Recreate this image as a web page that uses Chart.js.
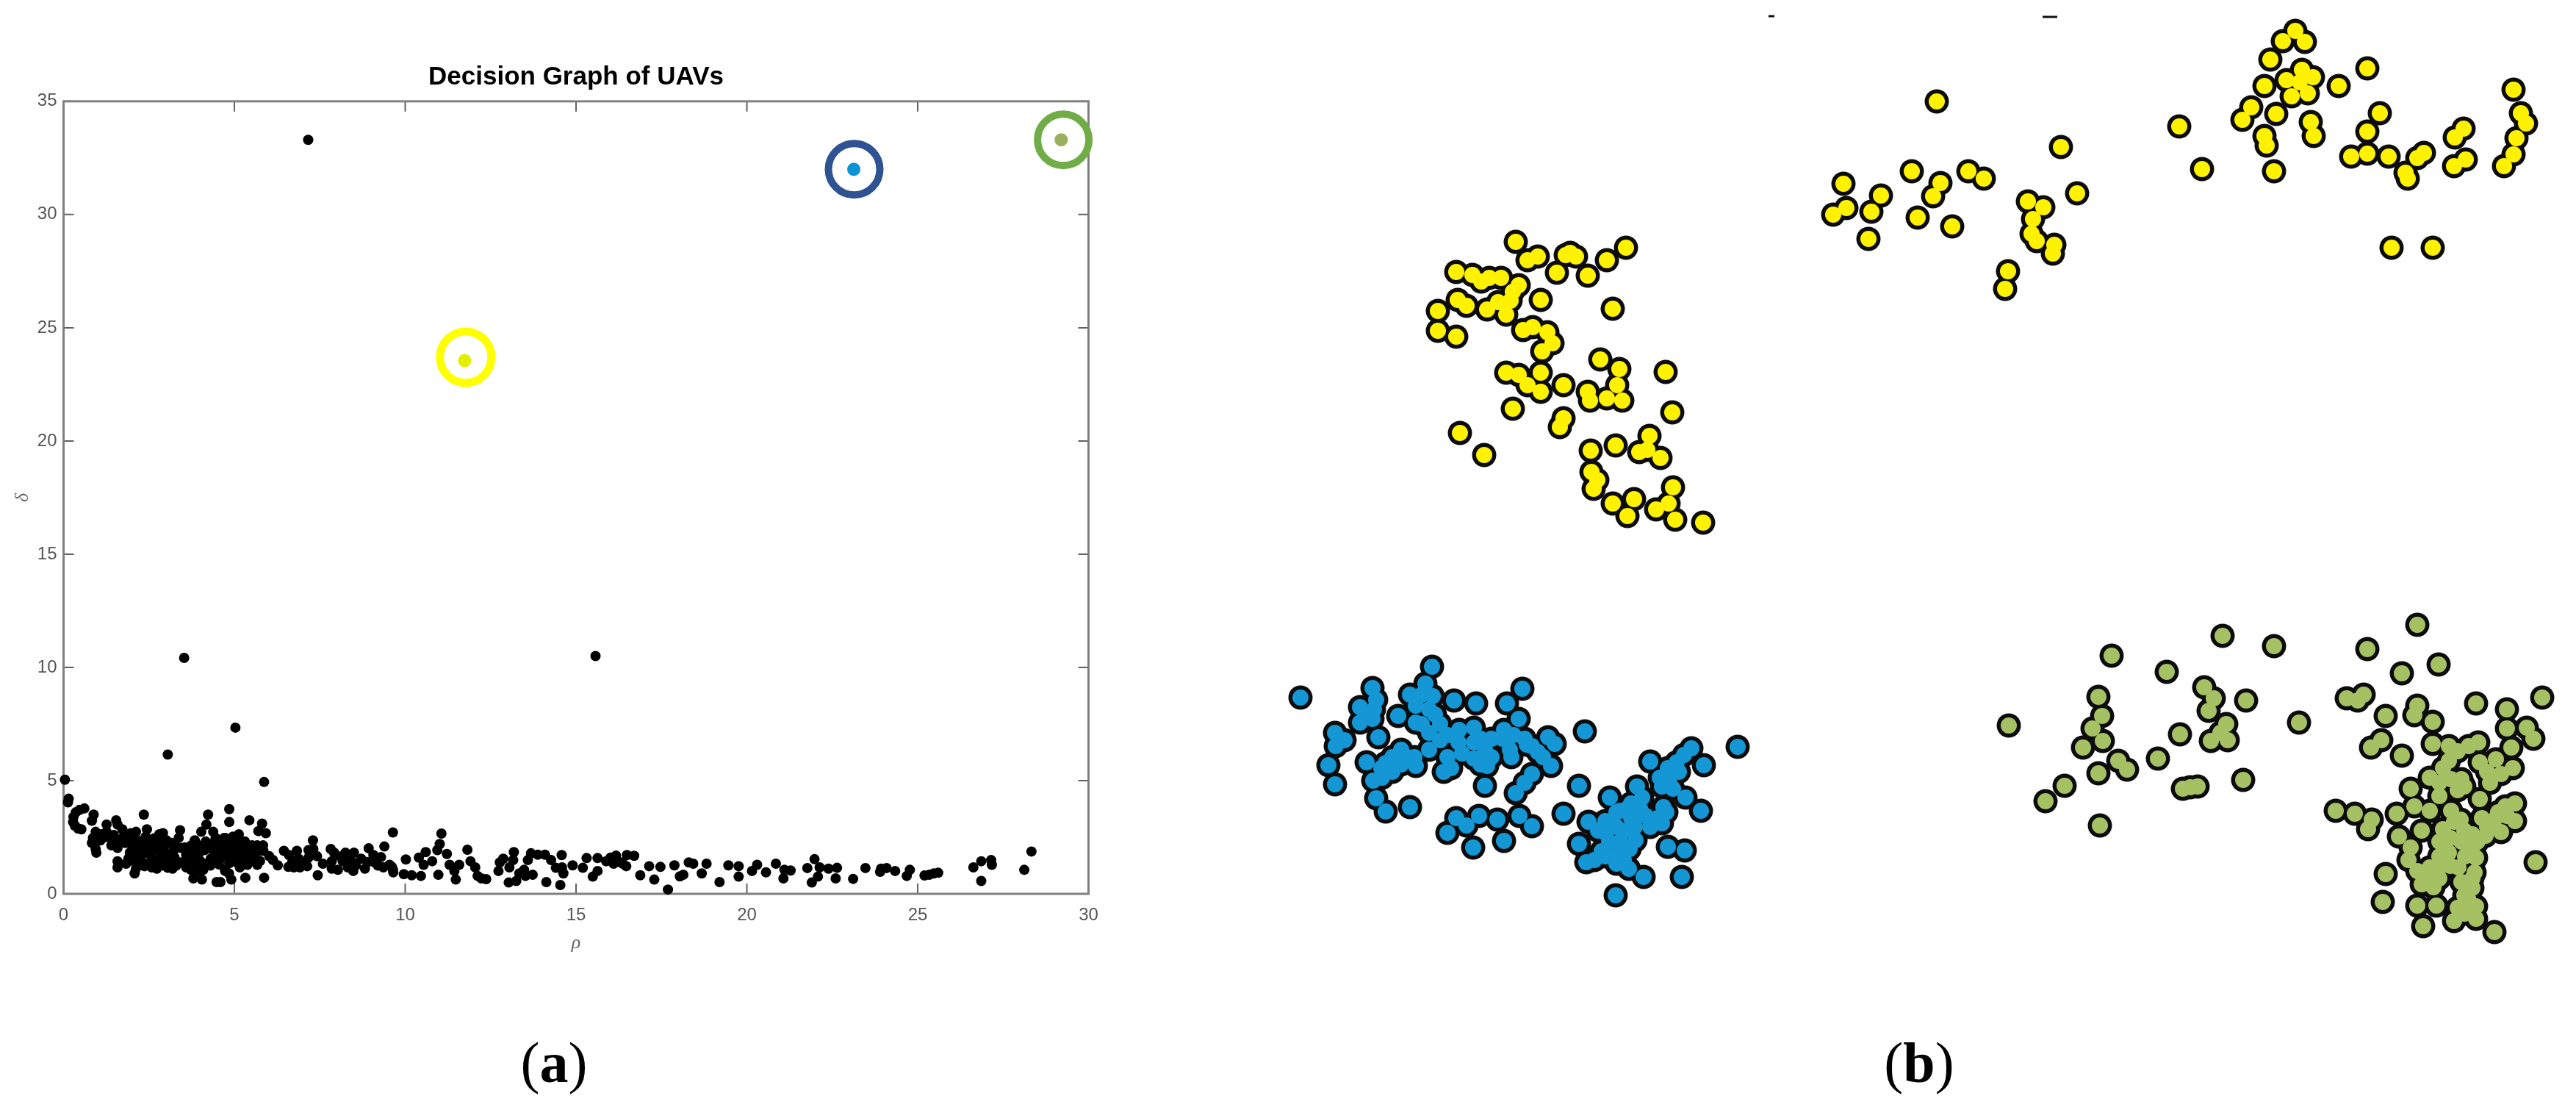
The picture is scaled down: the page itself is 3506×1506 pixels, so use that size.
<!DOCTYPE html>
<html>
<head>
<meta charset="UTF-8" />
<title>Decision Graph of UAVs</title>
<style type="text/css">
    html, body { margin: 0; padding: 0; background: #fff; }
    body { position: relative; width: 3506px; height: 1506px; overflow: hidden; }
    canvas { position: absolute; top: 0; }
    #graph { left: 0; }
    #clusters { left: 1700px; }
    .panel { position: absolute; top: 1396px; width: 200px; text-align: center;
             font: 78px "Liberation Serif", serif; color: #000; line-height: 100px; }
</style>
</head>
<body>
<canvas id="graph" width="1700" height="1506" aria-label="Decision Graph of UAVs" role="img"></canvas>
<canvas id="clusters" width="1806" height="1506" aria-label="UAV clusters" role="img"></canvas>
<div class="panel" style="left:654px">(<b>a</b>)</div>
<div class="panel" style="left:2512px">(<b>b</b>)</div>

<script src="https://cdn.jsdelivr.net/npm/chart.js"></script>
<script>
const titleText = 'Decision Graph of UAVs';
const rhoTicks = [0, 5, 10, 15, 20, 25, 30];
const deltaTicks = [0, 5, 10, 15, 20, 25, 30, 35];

// [rho, delta]
const decisionPoints = [
    [7.16,33.3],[3.53,10.42],[15.57,10.5],[5.03,7.34],[3.05,6.15],[5.87,4.94],[0.04,5.04],[0.15,4.2],[0.13,4.04],
    [0.61,3.77],[0.47,3.71],[0.36,3.6],[0.29,3.39],[0.28,3.17],[0.33,3.01],[0.43,2.88],[0.52,2.85],[0.88,3.5],[0.83,3.23],
    [1.26,3.06],[1.54,3.25],[1.58,3.06],[2.35,3.5],[0.94,2.74],[0.86,2.47],[0.83,2.25],[0.94,1.98],[0.96,1.82],[1.11,2.63],
    [1.08,2.36],[1.26,2.74],[1.37,2.47],[1.4,2.14],[1.58,2.03],[1.54,2.36],[1.72,2.85],[1.76,2.52],[1.8,2.25],[1.97,2.68],
    [2.12,2.74],[2.12,2.41],[2.01,2.09],[1.94,1.82],[1.9,1.55],[1.83,1.33],[1.58,1.44],[1.58,1.17],[2.44,2.85],[2.4,2.52],
    [2.3,2.25],[2.51,2.09],[2.33,1.76],[2.26,1.49],[2.15,1.28],[2.08,0.9],[2.12,1.11],[2.37,1.22],[2.58,1.55],[2.8,2.63],
    [2.91,2.68],[2.73,2.25],[2.66,1.93],[2.87,1.93],[2.73,1.49],[2.73,1.11],[2.58,1.17],[3.01,2.36],[3.16,2.25],[3.41,2.81],
    [3.37,2.47],[3.23,1.93],[3.16,1.55],[3.19,1.11],[3.01,1.44],[3.44,2.03],[3.59,1.71],[3.44,1.39],[3.59,1.17],[3.84,2.36],
    [3.95,2.14],[3.77,1.93],[3.87,1.6],[3.73,1.06],[3.8,0.68],[4.05,0.63],[3.95,1.01],[4.23,3.5],[4.18,3.06],[4.03,2.74],
    [4.38,2.74],[4.45,2.47],[4.16,2.31],[4.13,1.93],[4.31,1.55],[4.13,1.33],[4.09,1.06],[4.48,0.52],[4.7,2.47],[4.66,2.03],
    [4.77,1.76],[4.59,1.55],[4.73,1.06],[4.85,3.74],[4.85,3.17],[5.44,3.25],[5.81,3.1],[5.7,2.77],[5.92,2.68],[5.13,2.63],
    [4.95,2.52],[4.73,2.47],[4.66,2.14],[4.88,2.14],[4.73,1.71],[4.95,1.66],[5.31,2.31],[5.13,2.03],[5.52,2.14],[5.84,2.14],
    [5.67,2.14],[5.38,1.82],[5.2,1.6],[5.59,1.66],[5.16,1.17],[5.38,1.28],[5.67,1.28],[4.73,1.01],[4.91,0.63],[4.84,0.9],
    [5.32,0.71],[5.87,0.71],[4.59,0.52],[6.02,1.66],[6.13,1.49],[6.27,1.26],[6.45,1.9],[6.6,1.71],[6.58,1.19],[6.74,1.17],
    [6.83,1.9],[6.88,1.55],[6.92,1.17],[7.13,1.22],[7.17,1.6],[7.17,1.93],[7.3,2.36],[7.31,1.98],[7.42,1.66],[7.59,1.33],
    [7.44,0.82],[7.82,1.98],[7.92,1.82],[7.85,1.44],[7.85,1.11],[8.03,1.06],[8.25,1.82],[8.17,1.44],[8.32,1.17],[8.5,1.82],
    [8.46,1.39],[8.48,1.01],[8.71,1.55],[8.82,1.11],[8.93,2.01],[9.07,1.71],[9.11,1.39],[9.29,1.62],[9.39,2.09],[9.36,1.17],
    [9.54,1.28],[9.64,2.71],[9.64,1.06],[9.61,1.19],[9.65,0.95],[10.02,1.52],[9.96,0.87],[10.19,0.82],[10.46,0.79],[10.4,1.6],
    [10.6,1.84],[10.54,1.28],[10.79,1.44],[10.94,1.93],[11.01,2.2],[11.06,2.66],[11.22,1.76],[11.3,1.28],[11.58,1.28],[10.97,0.84],
    [11.44,1.01],[11.48,0.63],[11.82,1.95],[11.91,1.44],[12.05,1.17],[12.12,0.79],[12.37,0.65],[12.23,0.68],[12.73,1.01],[12.77,1.39],
    [12.87,1.55],[13.05,1.17],[13.18,1.84],[13.16,1.49],[13.03,0.5],[13.25,0.57],[13.34,0.9],[13.48,1.06],[13.52,0.79],[13.59,1.49],
    [13.68,1.79],[13.73,0.84],[13.88,1.73],[14.09,1.73],[14.27,1.49],[14.41,1.15],[14.13,0.52],[14.54,0.39],[14.58,1.71],[14.59,1.17],
    [14.63,0.9],[14.9,1.26],[15.2,1.15],[15.31,1.58],[15.63,1.58],[15.49,0.76],[15.63,1.01],[15.88,1.44],[16.03,1.52],[16.17,1.69],
    [16.1,1.33],[16.31,1.39],[16.01,1.6],[16.37,1.33],[16.47,1.22],[16.49,1.71],[16.7,1.68],[16.88,0.82],[17.14,1.22],[17.29,0.63],
    [17.47,1.19],[17.69,0.19],[17.88,1.26],[18.04,0.77],[18.14,0.84],[18.3,1.39],[18.43,1.33],[18.82,1.33],[18.68,0.9],[19.2,0.52],
    [19.46,1.26],[19.76,1.22],[19.76,0.76],[20.15,1.01],[20.3,1.28],[20.56,0.95],[20.85,1.33],[21.07,0.68],[21.1,1.06],[21.28,1.03],
    [21.77,1.14],[21.98,1.53],[21.9,0.5],[22.08,0.76],[22.13,1.17],[22.39,1.11],[22.64,1.15],[22.6,0.68],[23.11,0.66],[23.47,1.14],
    [23.9,0.97],[23.93,1.11],[24.09,1.14],[24.34,1.01],[24.77,1.06],[24.68,0.79],[25.2,0.81],[25.34,0.84],[25.47,0.9],[25.6,0.93],
    [26.63,1.17],[26.86,1.44],[26.86,0.57],[27.15,1.49],[27.17,1.28],[28.12,1.06],[28.33,1.87],
    // inside the solid part of the band
    [1.2,2.5],[1.47,2.6],[1.66,2.4],[1.9,2.4],[2.05,2.5],[2.22,2.3],[2.2,2.0],[2.15,1.7],[2.05,1.45],[2.45,1.9],
    [2.5,1.35],[2.45,2.2],[2.65,2.45],[2.85,2.35],[2.95,2.1],[3.05,1.75],[2.85,1.6],[2.9,1.25],[3.05,1.15],[3.25,1.6],
    [3.3,1.25],[3.25,2.15],[3.55,2.05],[3.7,1.75],[3.7,1.4],[3.75,2.15],[3.95,1.75],[4.0,1.45],[3.85,1.3],[4.2,2.0],
    [4.3,2.2],[4.4,1.9],[4.45,1.5],[4.3,1.25],[4.55,2.2],[4.55,1.3],[4.9,1.9],[4.85,1.35],[5.05,2.3],[5.05,1.85],
    [5.05,1.4],[5.2,2.2],[5.25,1.9],[5.3,1.45],[5.45,2.05],[5.5,1.8],[5.5,1.45],[5.7,1.9],[5.75,1.45],[5.85,1.9],
    [4.6,1.85],[6.7,1.45],[7.0,1.4],[8.1,1.65],[8.35,1.55],[8.55,1.25],[8.9,1.4],[9.2,1.25],[8.3,1.35]
];

// the three chosen centres: dot and the ring drawn round it
const yellowCentre = [11.74, 23.55];
const blueCentre = [23.13, 32.0];
const greenCentre = [29.2, 33.3];
const yellowRing = [11.77, 23.7];
const blueRing = [23.14, 32.0];
const greenRing = [29.26, 33.3];

// panel (b) has no axes, positions are taken in the picture's own units
const yellowUavs = [
    [2063,329],[2079,354],[2093,349],[2131,347],[2137,344],[2145,349],[2119,371],[2161,375],[2187,354],[2213,337],
    [1982,370],[2004,374],[2016,383],[2027,378],[2043,378],[2067,388],[2059,397],[2056,409],[2039,411],[2024,421],
    [2050,428],[1984,408],[1996,416],[1957,423],[2097,408],[2195,420],[1957,450],[1982,458],[2073,449],[2086,445],
    [2106,452],[2113,467],[2099,478],[2050,507],[2067,510],[2097,507],[2079,524],[2097,533],[2128,524],[2178,489],
    [2204,502],[2201,524],[2187,542],[2208,545],[2161,533],[2164,545],[2267,506],[2276,561],[2059,556],[2128,569],
    [2123,581],[1987,589],[2020,619],[2165,613],[2199,606],[2245,593],[2231,615],[2242,612],[2260,623],[2166,642],
    [2174,653],[2169,665],[2277,663],[2195,685],[2224,679],[2215,702],[2254,693],[2271,685],[2280,707],[2318,711],
    [2636,138],[2805,200],[2602,233],[2679,233],[2700,243],[2641,249],[2631,267],[2509,250],[2560,266],[2547,288],
    [2513,283],[2495,292],[2610,296],[2657,308],[2543,325],[2827,263],[2760,274],[2781,282],[2767,298],[2765,318],
    [2772,328],[2796,333],[2794,345],[2733,369],[2729,393],
    [3124,42],[3107,56],[3137,57],[3090,81],[3222,93],[3133,95],[3112,109],[3148,105],[3130,112],[3082,117],
    [3183,117],[3119,131],[3141,127],[3064,146],[3052,163],[3098,155],[2966,172],[3145,166],[3149,185],[3082,185],
    [3085,198],[2997,230],[3095,233],[3239,154],[3222,179],[3200,213],[3222,209],[3251,213],[3299,208],[3290,215],
    [3274,235],[3277,243],[3353,175],[3341,187],[3356,217],[3340,226],[3421,122],[3431,154],[3438,168],[3425,188],
    [3421,210],[3408,226],[3255,337],[3311,337]
];
const blueUavs = [
    [1770,949],[1949,907],[2072,937],[1868,936],[1873,952],[1851,962],[1851,983],[1868,978],[1876,1003],[1903,974],
    [1919,945],[1940,930],[1950,947],[1927,960],[1927,983],[1953,972],[1979,953],[2009,957],[2051,957],[2067,978],
    [2047,993],[2006,990],[1986,993],[1945,997],[1960,1007],[1817,997],[1830,1007],[1818,1015],[1808,1041],[1817,1067],
    [1860,1037],[1907,1020],[1886,1038],[1907,1040],[1927,1042],[1945,1020],[1970,1030],[1965,1050],[2006,1010],[2021,1020],
    [2006,1032],[2024,1042],[2021,1069],[2055,1020],[2078,1013],[2093,1023],[2107,1003],[2116,1012],[2111,1042],[2085,1053],
    [2075,1065],[2063,1079],[1881,1058],[1869,1062],[1873,1086],[1886,1104],[1919,1098],[2157,995],[2149,1069],[2128,1107],
    [1982,1113],[1996,1123],[2013,1110],[2038,1115],[2068,1110],[2085,1124],[1970,1133],[2005,1153],[2047,1144],
    [2365,1016],[2302,1018],[2319,1041],[2282,1037],[2292,1027],[2246,1036],[2259,1058],[2277,1073],[2294,1085],[2315,1103],
    [2228,1070],[2191,1085],[2220,1093],[2264,1098],[2256,1113],[2246,1125],[2220,1113],[2205,1103],[2185,1117],[2162,1118],
    [2185,1133],[2210,1130],[2226,1143],[2149,1148],[2192,1150],[2180,1158],[2159,1173],[2203,1165],[2217,1182],[2237,1193],
    [2270,1152],[2293,1157],[2289,1193],[2199,1218],
    [1935,945],[1945,965],[1935,985],[1960,985],[1970,1000],[1985,1010],[1990,1025],[1975,1045],[2015,1005],[2030,1005],
    [2015,1040],[2030,1030],[2045,1005],[2060,1000],[2057,1030],[2075,1005],[2085,1015],[2100,1030],[1895,1030],[1895,1050],
    [1915,1030],[1925,1030],[1880,1045],[1860,970],[1870,965],[1822,1005],
    [2200,1105],[2215,1100],[2235,1085],[2232,1100],[2240,1110],[2225,1125],[2200,1125],[2175,1130],[2190,1145],[2205,1145],
    [2218,1155],[2170,1170],[2185,1165],[2200,1175],[2210,1170],[2268,1105],[2262,1120],[2250,1120],[2270,1045],[2262,1070],
    [2285,1050],[2272,1065]
];
const greenUavs = [
    [2734,987],[2874,892],[2949,914],[3025,865],[3095,879],[2856,948],[2861,974],[2848,991],[2862,1008],[2835,1017],
    [2883,1035],[2895,1047],[2856,1052],[2810,1069],[2784,1090],[2858,1123],[2937,1032],[2967,999],[3000,935],[3013,950],
    [3006,967],[3057,953],[3030,985],[3022,997],[3009,1008],[3032,1007],[3129,983],[2971,1073],[2991,1070],[2981,1071],
    [3053,1061],[3290,850],[3222,883],[3319,904],[3269,916],[3194,950],[3217,945],[3209,953],[3247,974],[3290,960],
    [3286,973],[3311,982],[3370,957],[3412,965],[3460,949],[3412,991],[3439,990],[3448,1005],[3418,1017],[3311,1012],
    [3241,1007],[3227,1017],[3269,1028],[3333,1015],[3333,1035],[3360,1015],[3373,1010],[3375,1037],[3397,1033],[3420,1045],
    [3404,1053],[3389,1065],[3307,1058],[3336,1060],[3354,1070],[3281,1073],[3320,1083],[3375,1087],[3423,1093],[3410,1097],
    [3423,1117],[3412,1110],[3404,1132],[3179,1103],[3205,1107],[3228,1115],[3223,1128],[3262,1107],[3286,1097],[3307,1103],
    [3336,1103],[3349,1115],[3354,1130],[3378,1113],[3383,1137],[3265,1138],[3296,1130],[3325,1128],[3281,1153],[3278,1170],
    [3320,1145],[3333,1160],[3365,1153],[3370,1167],[3307,1180],[3320,1195],[3296,1203],[3312,1207],[3346,1180],[3368,1187],
    [3365,1208],[3354,1218],[3247,1189],[3451,1173],[3243,1227],[3290,1232],[3316,1232],[3370,1233],[3354,1243],[3340,1253],
    [3370,1250],[3298,1260],[3395,1268],
    [3320,1065],[3340,1118],[3335,1140],[3350,1145],[3320,1165],[3290,1185],[3300,1195],[3320,1180],[3335,1178],[3355,1165],
    [3350,1200],[3365,1195],[3360,1225],[3345,1235],[3360,1240],[3400,1105],[3385,1125],[3395,1115],[3365,1135],[3372,1145],
    [3350,1060],[3345,1075],[3325,1045],[3385,1050],[3345,1022]
];
const cropMarks = [[2411,22],[2790,23]];

const toXY = pts => pts.map(p => ({ x: p[0], y: p[1] }));

// frame and inward ticks, matlab style
const boxAxes = {
    id: 'boxAxes',
    beforeDatasetsDraw(chart) {
        if (!chart.options.plugins.boxAxes.show) return;
        const { ctx, chartArea: a, scales } = chart;
        ctx.save();
        ctx.strokeStyle = '#606060';
        ctx.lineWidth = 2;
        ctx.beginPath();
        scales.x.ticks.forEach(t => {
            const px = scales.x.getPixelForValue(t.value);
            ctx.moveTo(px, a.bottom); ctx.lineTo(px, a.bottom - 14);
            ctx.moveTo(px, a.top); ctx.lineTo(px, a.top + 14);
        });
        scales.y.ticks.forEach(t => {
            const py = scales.y.getPixelForValue(t.value);
            ctx.moveTo(a.left, py); ctx.lineTo(a.left + 14, py);
            ctx.moveTo(a.right, py); ctx.lineTo(a.right - 14, py);
        });
        ctx.stroke();
        ctx.strokeStyle = '#808080';
        ctx.lineWidth = 3;
        ctx.strokeRect(a.left, a.top, a.right - a.left, a.bottom - a.top);
        ctx.restore();
    }
};
Chart.register(boxAxes);

function dots(points, color, radius) {
    return { data: toXY(points), backgroundColor: color, borderWidth: 0, pointRadius: radius, clip: false };
}
function ring(point, color, width) {
    return { data: toXY([point]), backgroundColor: 'transparent', borderColor: color, borderWidth: width, pointRadius: 35, clip: false };
}

new Chart(document.getElementById('graph'), {
    type: 'scatter',
    data: {
        datasets: [
            ring(yellowRing, '#ffff00', 11),
            ring(blueRing, '#2f5293', 10),
            ring(greenRing, '#70ad47', 10),
            dots([yellowCentre], '#e4ee00', 9),
            dots([blueCentre], '#0a94d4', 9),
            dots([greenCentre], '#9bb05c', 9),
            dots(decisionPoints, '#000000', 7)
        ]
    },
    options: {
        responsive: false,
        animation: false,
        events: [],
        layout: { autoPadding: false, padding: { left: 0, right: 218.5, top: 85, bottom: 207 } },
        plugins: {
            legend: { display: false },
            tooltip: { enabled: false },
            boxAxes: { show: true },
            title: {
                display: true,
                fullSize: false,
                text: titleText,
                color: '#000',
                font: { family: 'Liberation Sans', size: 35, weight: 'bold', lineHeight: 1.17 },
                padding: { top: 0, bottom: 11.9 }
            }
        },
        scales: {
            x: {
                type: 'linear',
                min: rhoTicks[0],
                max: rhoTicks[rhoTicks.length - 1],
                afterBuildTicks(s) { s.ticks = rhoTicks.map(v => ({ value: v })); },
                afterFit(s) { s.height = 83; s.paddingLeft = 0; s.paddingRight = 0; },
                grid: { display: false, drawTicks: false },
                border: { display: false },
                ticks: { color: '#555', padding: 15, maxRotation: 0, font: { family: 'Liberation Sans', size: 24 } },
                title: { display: true, text: 'ρ', color: '#666', padding: 0,
                         font: { family: 'Liberation Serif', size: 26, style: 'italic' } }
            },
            y: {
                type: 'linear',
                min: deltaTicks[0],
                max: deltaTicks[deltaTicks.length - 1],
                afterBuildTicks(s) { s.ticks = deltaTicks.map(v => ({ value: v })); },
                afterFit(s) { s.width = 86.5; s.paddingTop = 0; s.paddingBottom = 0; },
                grid: { display: false, drawTicks: false },
                border: { display: false },
                ticks: { color: '#555', padding: 9, font: { family: 'Liberation Sans', size: 24 } },
                title: { display: true, text: 'δ', color: '#666', padding: { top: 16, bottom: 0 },
                         font: { family: 'Liberation Serif', size: 26, style: 'italic' } }
            }
        }
    }
});

// black discs under the fill so touching points melt into one shape
function cluster(points, fill) {
    return [
        { data: toXY(points), backgroundColor: fill, borderWidth: 0, pointRadius: 11, order: 1, clip: false },
        { data: toXY(points), backgroundColor: '#0c0c0c', borderWidth: 0, pointRadius: 16.5, order: 2, clip: false }
    ];
}

new Chart(document.getElementById('clusters'), {
    type: 'scatter',
    data: {
        datasets: [
            ...cluster(yellowUavs, '#fff200'),
            ...cluster(blueUavs, '#1497d4'),
            ...cluster(greenUavs, '#a6c064'),
            { data: toXY(cropMarks), pointStyle: 'line', borderColor: '#111', borderWidth: 3, pointRadius: [4, 10], order: 3, clip: false }
        ]
    },
    options: {
        responsive: false,
        animation: false,
        events: [],
        layout: { autoPadding: false, padding: 0 },
        plugins: { legend: { display: false }, tooltip: { enabled: false }, boxAxes: { show: false } },
        scales: {
            x: { type: 'linear', display: false, min: 1700, max: 3506 },
            y: { type: 'linear', display: false, reverse: true, min: 0, max: 1506 }
        }
    }
});
</script>
</body>
</html>
